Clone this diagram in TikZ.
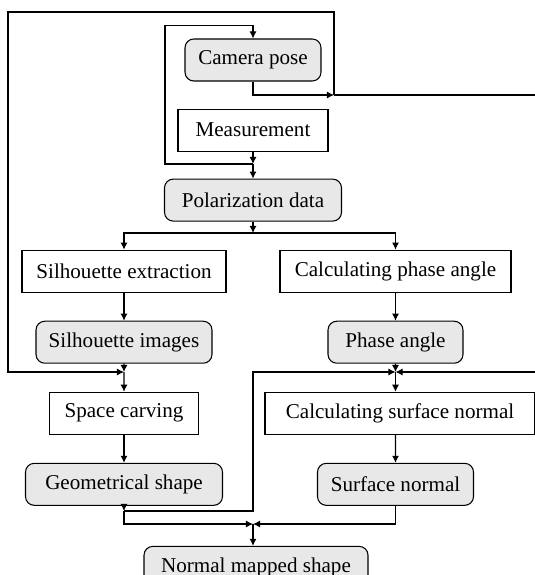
\documentclass[tikz,border=0pt]{standalone}
\usepackage{fontspec}
\setmainfont{Liberation Serif}
\usepackage{tikz}
\usetikzlibrary{
    arrows.meta,
    calc,
    positioning
}
\definecolor{stepgray}{HTML}{E8E8E8}
\tikzstyle{arrow}=[line width=0.6pt,-{Latex[length=4pt,width=4pt]},draw=black]

\begin{document}
\begin{tikzpicture}[
    node distance=0.56cm,
    proc/.style={
        rectangle,
        draw=black,
        line width=0.6pt,
        minimum height=0.84cm,
        inner sep=0pt,
        align=center,
        font=\fontsize{12}{14}\selectfont
    },
    data/.style={
        proc,
        rounded corners=5pt,
        fill=stepgray
    }
]
\useasboundingbox (0,0) rectangle (10.68,-11.5);

\node[data,minimum width=2.72cm] (cam) at (5.06,-1.2) {Camera pose};
\node[proc,minimum width=3.0cm,below=0.54cm of cam] (meas) {Measurement};
\node[data,minimum width=3.54cm,below=0.54cm of meas] (pol) {Polarization data};
\node[proc,minimum width=4.08cm,below=of pol,xshift=-2.58cm] (silx) {Silhouette extraction};
\node[proc,minimum width=4.62cm,below=of pol,xshift=2.85cm] (cpa) {Calculating phase angle};
\node[data,minimum width=3.52cm,below=of silx] (sili) {Silhouette images};
\node[data,minimum width=2.7cm,below=of cpa] (pha) {Phase angle};
\node[proc,minimum width=2.98cm,below=of sili] (spc) {Space carving};
\node[proc,minimum width=5.4cm,below=of pha,xshift=0.09cm] (csn) {Calculating surface normal};
\node[data,minimum width=3.94cm,below=of spc] (geo) {Geometrical shape};
\node[data,minimum width=3.12cm,below=of csn,xshift=-0.09cm] (sn) {Surface normal};
\node[data,minimum width=4.48cm,below=0.8cm of geo,xshift=2.64cm] (nms) {Normal mapped shape};

% junctions
\coordinate (j1) at (5.06,-3.28);
\coordinate (j2) at (6.68,-1.9);
\coordinate (j5) at (5.06,-4.66);
\coordinate (j3) at (2.48,-7.44);
\coordinate (j4) at (7.91,-7.44);
\coordinate (j6) at (2.48,-10.22);
\coordinate (j7) at (5.06,-10.48);
\coordinate (rt) at (10.9,-1.9);

\draw[arrow] (meas) -- (j1);
\draw[arrow] (j1) -- (pol);
\draw[arrow] (j1) -- ++(-1.76,0) |- ($(cam.north)+(0,0.26)$) -- (cam.north);
\draw[arrow] (cam.south) |- (j2);
\draw[arrow] (j2) -- (rt) |- (j4);
\draw[arrow] (j2) |- (0.16,-0.24) |- (j3);
\draw[arrow] (pol) -- (j5);
\draw[arrow] (j5) -| (silx);
\draw[arrow] (j5) -| (cpa);
\draw[arrow] (silx) -- (sili);
\draw[arrow] (cpa) -- (pha);
\draw[arrow] (sili) -- (j3);
\draw[arrow] (j3) -- (spc);
\draw[arrow] (pha) -- (j4);
\draw[arrow] (j4) -- (j4 |- csn.north);
\draw[arrow] (spc) -- (geo);
\draw[arrow] (j4 |- csn.south) -- (sn);
\draw[arrow] (geo) -- (j6);
\draw[arrow] (j6) -- ++(2.58,0) |- (j4);
\draw[arrow] (j6) |- (j7);
\draw[arrow] (sn) |- (j7);
\draw[arrow] (j7) -- (j7 |- nms.north);
\end{tikzpicture}
\end{document}
